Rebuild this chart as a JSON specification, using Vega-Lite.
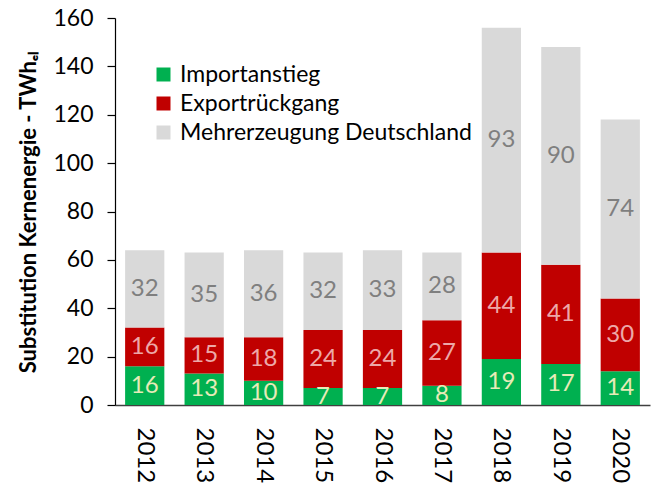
{
  "$schema": "https://vega.github.io/schema/vega-lite/v6.json",
  "autosize": "none",
  "width": 535,
  "height": 387,
  "padding": {"left": 115, "top": 18, "right": 18, "bottom": 78},
  "background": "white",
  "config": {"font": "Lato", "view": {"stroke": null}},
  "data": {"values": [
    {"year": "2012", "series": "Importanstieg", "value": 16, "ord": 1},
    {"year": "2012", "series": "Exportrückgang", "value": 16, "ord": 2},
    {"year": "2012", "series": "Mehrerzeugung Deutschland", "value": 32, "ord": 3},
    {"year": "2013", "series": "Importanstieg", "value": 13, "ord": 1},
    {"year": "2013", "series": "Exportrückgang", "value": 15, "ord": 2},
    {"year": "2013", "series": "Mehrerzeugung Deutschland", "value": 35, "ord": 3},
    {"year": "2014", "series": "Importanstieg", "value": 10, "ord": 1},
    {"year": "2014", "series": "Exportrückgang", "value": 18, "ord": 2},
    {"year": "2014", "series": "Mehrerzeugung Deutschland", "value": 36, "ord": 3},
    {"year": "2015", "series": "Importanstieg", "value": 7, "ord": 1},
    {"year": "2015", "series": "Exportrückgang", "value": 24, "ord": 2},
    {"year": "2015", "series": "Mehrerzeugung Deutschland", "value": 32, "ord": 3},
    {"year": "2016", "series": "Importanstieg", "value": 7, "ord": 1},
    {"year": "2016", "series": "Exportrückgang", "value": 24, "ord": 2},
    {"year": "2016", "series": "Mehrerzeugung Deutschland", "value": 33, "ord": 3},
    {"year": "2017", "series": "Importanstieg", "value": 8, "ord": 1},
    {"year": "2017", "series": "Exportrückgang", "value": 27, "ord": 2},
    {"year": "2017", "series": "Mehrerzeugung Deutschland", "value": 28, "ord": 3},
    {"year": "2018", "series": "Importanstieg", "value": 19, "ord": 1},
    {"year": "2018", "series": "Exportrückgang", "value": 44, "ord": 2},
    {"year": "2018", "series": "Mehrerzeugung Deutschland", "value": 93, "ord": 3},
    {"year": "2019", "series": "Importanstieg", "value": 17, "ord": 1},
    {"year": "2019", "series": "Exportrückgang", "value": 41, "ord": 2},
    {"year": "2019", "series": "Mehrerzeugung Deutschland", "value": 90, "ord": 3},
    {"year": "2020", "series": "Importanstieg", "value": 14, "ord": 1},
    {"year": "2020", "series": "Exportrückgang", "value": 30, "ord": 2},
    {"year": "2020", "series": "Mehrerzeugung Deutschland", "value": 74, "ord": 3}
  ]},
  "transform": [
    {"stack": "value", "groupby": ["year"], "sort": [{"field": "ord", "order": "ascending"}], "as": ["v0", "v1"]},
    {"calculate": "(datum.v0 + datum.v1) / 2", "as": "mid"}
  ],
  "encoding": {
    "x": {
      "field": "year", "type": "ordinal",
      "scale": {"paddingInner": 0.34, "paddingOuter": 0.17},
      "axis": {
        "title": null, "labelAngle": 90, "labelFontSize": 24, "labelColor": "black",
        "labelPadding": 22, "labelAlign": "left", "labelBaseline": "middle",
        "ticks": false, "domainColor": "#404040", "domainWidth": 1.5
      }
    }
  },
  "layer": [
    {
      "mark": {"type": "bar"},
      "encoding": {
        "y": {
          "field": "v0", "type": "quantitative",
          "scale": {"domain": [0, 160]},
          "axis": {
            "title": "Substitution Kernenergie - TWhₑₗ",
            "titleFontSize": 22, "titleFontWeight": "bold", "titleColor": "black",
            "titlePadding": 12,
            "values": [0, 20, 40, 60, 80, 100, 120, 140, 160],
            "labelFontSize": 23, "labelColor": "black", "labelPadding": 14,
            "grid": false, "tickSize": 8, "tickColor": "black", "domainColor": "black",
            "tickWidth": 1.2, "domainWidth": 1.2
          }
        },
        "y2": {"field": "v1"},
        "color": {
          "field": "series", "type": "nominal",
          "scale": {
            "domain": ["Importanstieg", "Exportrückgang", "Mehrerzeugung Deutschland"],
            "range": ["#00B050", "#C00000", "#D9D9D9"]
          },
          "legend": {
            "title": null, "orient": "none", "legendX": 37, "legendY": 45,
            "labelFontSize": 23, "labelColor": "black", "symbolType": "square",
            "symbolSize": 196, "symbolStrokeWidth": 0, "rowPadding": 5, "labelOffset": 5,
            "labelLimit": 400
          }
        }
      }
    },
    {
      "mark": {"type": "text", "fontSize": 24, "baseline": "middle", "align": "center"},
      "encoding": {
        "y": {"field": "mid", "type": "quantitative"},
        "text": {"field": "value", "type": "quantitative"},
        "color": {
          "field": "series", "type": "nominal",
          "scale": {
            "domain": ["Importanstieg", "Exportrückgang", "Mehrerzeugung Deutschland"],
            "range": ["#E6EBB8", "#EDA8A8", "#7F7F7F"]
          },
          "legend": null
        }
      }
    }
  ],
  "resolve": {"scale": {"color": "independent"}}
}
